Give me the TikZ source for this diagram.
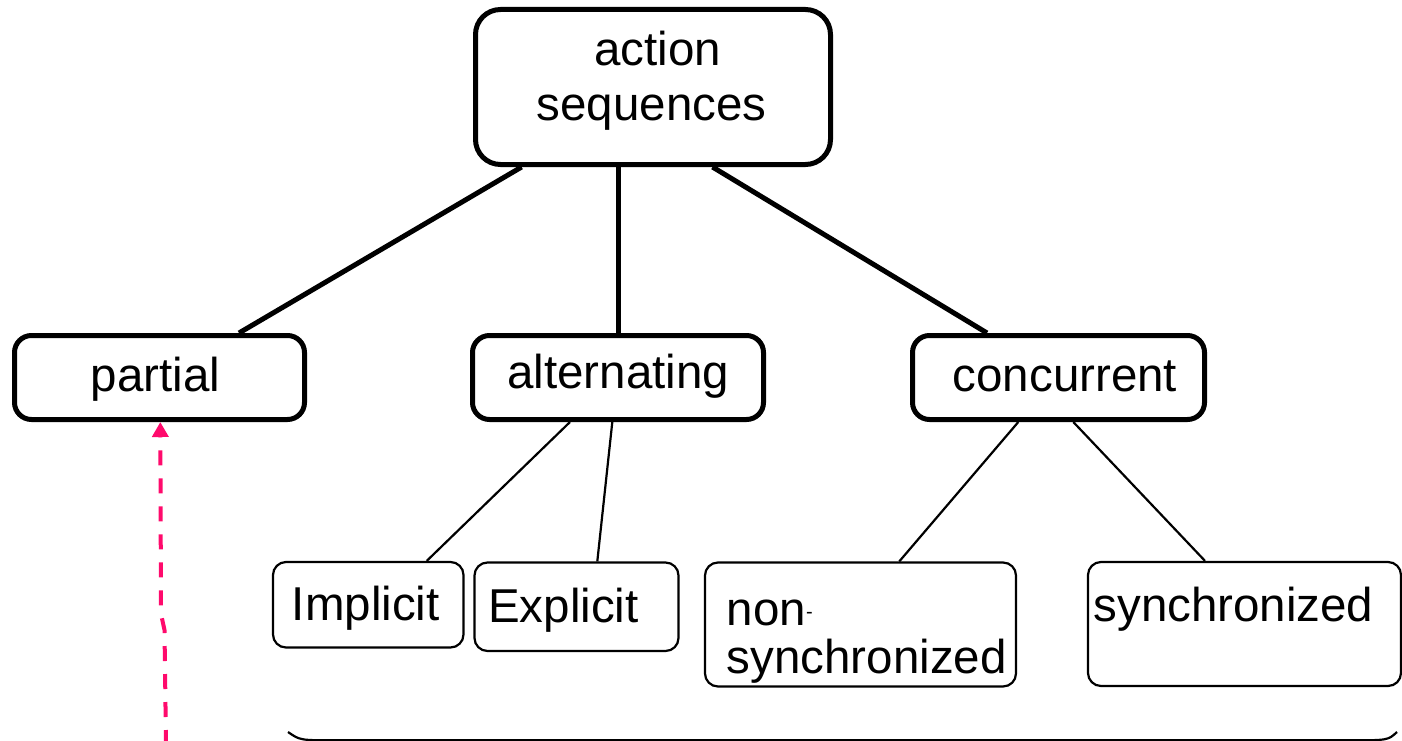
\documentclass[tikz,border=0pt]{standalone}
\usepackage{fontspec}
\setmainfont{Liberation Sans}
\usetikzlibrary{arrows.meta}
\definecolor{linkpink}{HTML}{FF0A6C}
\begin{document}
\begin{tikzpicture}[x=1pt,y=-1pt,
  bigbox/.style={draw, line width=5pt, rounded corners=17pt, inner sep=0pt},
  smallbox/.style={draw, line width=2.2pt, rounded corners=13pt, inner sep=0pt},
  thickedge/.style={line width=5pt},
  thinedge/.style={line width=2.2pt},
  lbl/.style={inner sep=0pt, font=\fontsize{47.5}{55}\selectfont},
  pinklink/.style={draw=linkpink, line width=4pt, dash pattern=on 15pt off 13pt,
    -{Triangle[width=16pt,length=15pt]}, linkpink}]
\useasboundingbox (0,0) rectangle (1402,741);

% upper level
\node[bigbox, rounded corners=25pt, minimum width=355pt, minimum height=155pt] (seq) at (653,87) {};
\node[lbl, anchor=base] (seq-t1) at (657.5,66) {action};
\node[lbl, anchor=base] (seq-t2) at (651.7,121) {sequences};

% middle level
\node[bigbox, minimum width=290pt, minimum height=84pt] (partial) at (159.5,377.5) {};
\node[lbl, anchor=base] (partial-t) at (155.5,391) {partial};
\node[bigbox, minimum width=291pt, minimum height=84pt] (alt) at (618,377.5) {};
\node[lbl, anchor=base] (alt-t) at (618.3,388) {alternating};
\node[bigbox, minimum width=292pt, minimum height=84pt] (conc) at (1058.5,377.5) {};
\node[lbl, anchor=base] (conc-t) at (1065,391) {concurrent};

% lower level
\node[smallbox, minimum width=190.5pt, minimum height=85.5pt] (impl) at (368.25,604.75) {};
\node[lbl, anchor=base] (impl-t) at (365.8,620) {Implicit};
\node[smallbox, minimum width=204pt, minimum height=88.5pt] (expl) at (576.5,606.75) {};
\node[lbl, anchor=base] (expl-t) at (563.5,622.7) {Explicit};
\node[smallbox, minimum width=311pt, minimum height=124pt] (nonsync) at (860.5,624.5) {};
\node[lbl, anchor=base west] (nonsync-t1) at (726.7,625) {non\raisebox{7pt}{\fontsize{20}{20}\selectfont -}};
\node[lbl, anchor=base west] (nonsync-t2) at (726.7,673.3) {synchronized};
\node[smallbox, minimum width=313pt, minimum height=124pt] (sync) at (1244.5,624) {};
\node[lbl, anchor=base west] (sync-t) at (1093.3,621.7) {synchronized};

% tree edges
\draw[thickedge] ([xshift=-131.4pt]seq.south) -- ([xshift=79.5pt]partial.north);
\draw[thickedge] ([xshift=-34.6pt]seq.south) -- ([xshift=0.4pt]alt.north);
\draw[thickedge] ([xshift=59.5pt]seq.south) -- ([xshift=-71.5pt]conc.north);
\draw[thinedge] ([xshift=-48pt]alt.south) -- ([xshift=58.5pt]impl.north);
\draw[thinedge] ([xshift=-5.7pt]alt.south) -- ([xshift=20.8pt]expl.north);
\draw[thinedge] ([xshift=-40.2pt]conc.south) -- ([xshift=38.8pt]nonsync.north);
\draw[thinedge] ([xshift=14.8pt]conc.south) -- ([xshift=-39.5pt]sync.north);

% grouping curve along the bottom
\coordinate (grpL) at (288,732);
\coordinate (grpR) at (1397,732);
\draw[thinedge] (grpL) .. controls (300,740.3) .. (335,740.3) -- (1350,740.3) .. controls (1388,740.3) .. (grpR);

% dashed pointer up to "partial"
\coordinate (ptrStart) at (166,745);
\draw[pinklink] (ptrStart) -- (164.5,630) -- (161,614) -- ([xshift=0.8pt]partial.south);
\end{tikzpicture}
\end{document}
